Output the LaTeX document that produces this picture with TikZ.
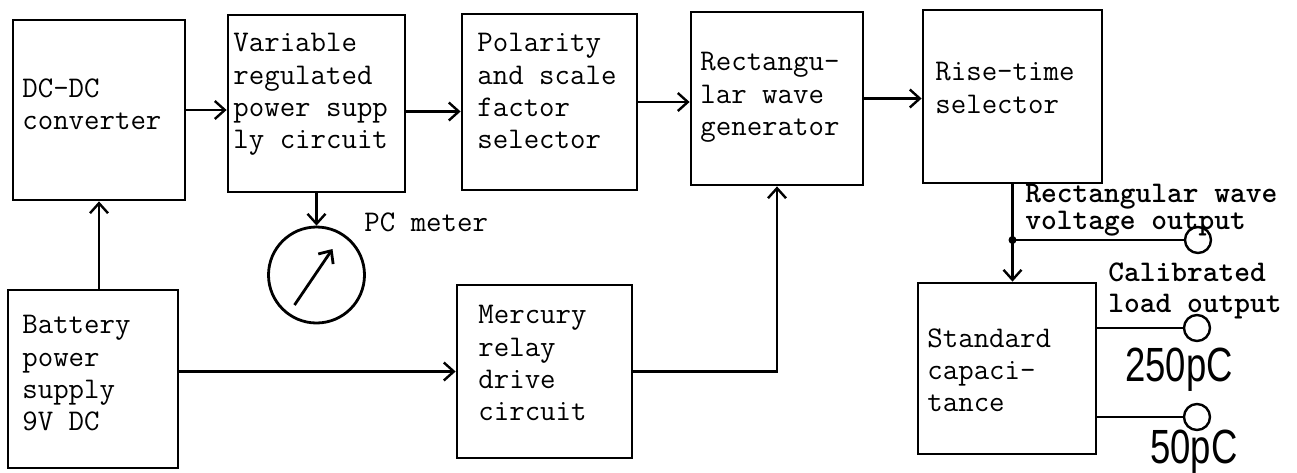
\documentclass[tikz,border=0pt]{standalone}
\usepackage{fontspec}
\usepackage{graphicx}
\newfontfamily\stampfont{Liberation Sans}
\usetikzlibrary{arrows,arrows.meta,positioning}

\tikzset{
  box/.style={draw, line width=1.4pt, inner sep=0pt},
  blocktext/.style={font=\ttfamily\fontsize{15}{16.2}\selectfont, align=left, inner sep=0pt, anchor=north west},
  outtext/.style={font=\ttfamily\bfseries\fontsize{15}{10}\selectfont, align=left, inner sep=0pt, anchor=north west},
  stamptext/.style={font=\stampfont\fontsize{24}{24}\selectfont, inner sep=0pt, anchor=north west},
  jack/.style={draw, circle, line width=1.2pt, minimum size=13pt, inner sep=0pt},
  wire/.style={line width=1.2pt}
}

\begin{document}
\begin{tikzpicture}[x=0.5pt, y=-0.5pt, >={Straight Barb[length=5pt,width=9pt]}]
\useasboundingbox (0,0) rectangle (1297,472);

%Top row
\node [box, minimum width=86pt, minimum height=90pt] (dcdc) at (99,110) {};
\node [box, minimum width=88.5pt, minimum height=88.5pt] (varps) at (316.5,103.5) {};
\node [box, minimum width=87.5pt, minimum height=88pt] (polar) at (549.5,102) {};
\node [box, minimum width=86pt, minimum height=86.5pt] (rectgen) at (777,98.5) {};
\node [box, minimum width=89.5pt, minimum height=86.5pt] (rise) at (1012.5,96.5) {};

\node [blocktext] (dcdctext) at (22,78) {DC-DC\\converter};
\node [blocktext] (varpstext) at (233,33) {Variable\\regulated\\power supp\\ly circuit};
\node [blocktext] (polartext) at (477,33) {Polarity\\and scale\\factor\\selector};
\node [blocktext] (rectgentext) at (700,52) {Rectangu-\\lar wave\\generator};
\node [blocktext] (risetext) at (935,62) {Rise-time\\selector};

\draw [wire,->] (dcdc.east) -- (dcdc.east -| varps.west);
\draw [wire,->] ([yshift=-4pt]varps.east) -- ([yshift=-4pt]varps.east -| polar.west);
\draw [wire,->] (polar.east) -- (polar.east -| rectgen.west);
\draw [wire,->] (rectgen.east) -- (rectgen.east -| rise.west);

%Meter
\node [draw, circle, line width=1.4pt, minimum size=48pt, inner sep=0pt] (meter) at (316.5,275) {};
\node [blocktext] (metertext) at (364,212) {PC meter};
\draw [wire,->] (varps.south) -- (meter.north);
\draw [line width=1.4pt,->] ([shift={(-22,30)}]meter.center) -- ([shift={(16,-26)}]meter.center);

%Bottom row
\node [box, minimum width=85pt, minimum height=89pt] (battery) at (93,379) {};
\node [box, minimum width=87.5pt, minimum height=86.5pt] (mercury) at (544.5,371.5) {};
\node [blocktext] (batterytext) at (22,315) {Battery\\power\\supply\\9V DC};
\node [blocktext] (mercurytext) at (478,305) {Mercury\\relay\\drive\\circuit};

\draw [wire,->] (battery.north -| dcdc.south) -- (dcdc.south);
\draw [wire,->] (mercury.west -| battery.east) -- (mercury.west);
\draw [wire,->] (mercury.east) -| (rectgen.south);

%Outputs
\node [box, minimum width=89pt, minimum height=85.5pt] (stdcap) at (1007,368.5) {};
\node [blocktext] (stdcaptext) at (927,328) {Standard\\capaci-\\tance};
\coordinate (jn) at (rise.south |- 0,240);
\node [jack] (outa) at (1198,240) {};
\node [jack] (outb) at (1197,328) {};
\node [jack] (outc) at (1197,417) {};

\draw [wire] (rise.south) -- (jn);
\draw [wire] (jn) -- (outa.west);
\draw [wire,->] (jn) -- (jn |- stdcap.north);
\fill (jn) circle [radius=4];
\draw [wire] (outb.west -| stdcap.east) -- (outb.west);
\draw [wire] (outc.west -| stdcap.east) -- (outc.west);

\node [outtext] (outatext) at (1025,184) {Rectangular wave\\voltage output};
\node [outtext, font=\ttfamily\bfseries\fontsize{15}{15.5}\selectfont] (outbtext) at (1108,262) {Calibrated\\load output};
\node [stamptext] (outbval) at (1125,348) {\scalebox{0.76}[1]{250pC}};
\node [stamptext] (outcval) at (1150,430) {\scalebox{0.76}[1]{50pC}};
\end{tikzpicture}
\end{document}
